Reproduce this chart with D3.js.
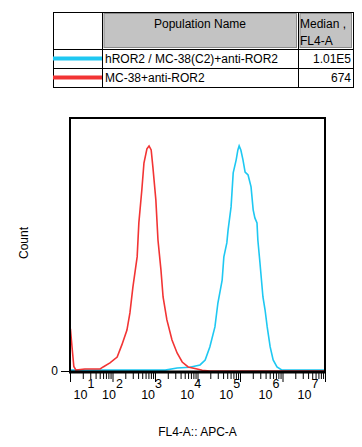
<!DOCTYPE html>
<html>
<head>
<meta charset="utf-8">
<script src="https://cdn.jsdelivr.net/npm/d3@7"></script>
<style>
  body { margin: 0; background: #fff; }
  svg { display: block; font-family: "Liberation Sans", Arial, sans-serif; }
</style>
</head>
<body>
<div id="chart"></div>
<script>
// series names and medians (legend table)
var seriesNames = ["hROR2 / MC-38(C2)+anti-ROR2", "MC-38+anti-ROR2"];
var seriesMedians = ["1.01E5", "674"];
var seriesColors = ["#1ec8f2", "#f23434"];

// histogram traces: log10(FL4-A) and count as % of mode
var blueLog = [1.0, 3.24, 3.52, 3.82, 4.06, 4.18, 4.29, 4.41, 4.48, 4.58, 4.62, 4.69, 4.72, 4.79, 4.84, 4.91, 4.95, 4.98, 5.02, 5.07, 5.12, 5.19, 5.26, 5.31, 5.35, 5.40, 5.42, 5.47, 5.54, 5.59, 5.64, 5.71, 5.78, 5.87, 5.99, 7.0];
var blueCount = [0.4, 0.4, 1.3, 1.7, 2.7, 4.9, 10.7, 19.6, 30.2, 40.4, 50.7, 56.9, 62.7, 72.9, 88, 93.8, 98.2, 100, 98.2, 93.8, 88.4, 87.1, 81.8, 71.6, 68, 65.8, 58.2, 48, 32.9, 27.1, 19.6, 10.7, 4.9, 1.8, 0.4, 0.4];

var redLog = [1.01, 1.05, 1.09, 1.14, 1.35, 1.71, 1.78, 1.94, 2.11, 2.22, 2.34, 2.41, 2.48, 2.58, 2.62, 2.69, 2.74, 2.81, 2.86, 2.91, 2.95, 3.02, 3.07, 3.14, 3.19, 3.28, 3.40, 3.52, 3.64, 3.78, 3.99, 4.11, 4.29, 7.0];
var redCount = [18.7, 10.2, 2.0, 0.4, 0.9, 0.9, 1.8, 3.6, 6.2, 11.6, 18.2, 25.8, 37.3, 50.7, 65.8, 80.4, 92.4, 98.7, 100, 98.2, 90.7, 76, 58.2, 44.9, 32.9, 22.7, 13.8, 8, 4, 1.8, 0.9, 0.3, 0, 0];

var decades = [1, 2, 3, 4, 5, 6, 7];
var yTicks = [0];

var width = 362, height = 447;
var margin = { left: 70, right: 37, top: 118, bottom: 75 };
var plotW = width - margin.left - margin.right;
var plotH = height - margin.top - margin.bottom;

var svg = d3.select("#chart").append("svg")
  .attr("width", width)
  .attr("height", height);

// ---- legend table ----
var tbl = svg.append("g").attr("transform", "translate(53,12)");
var colX = [0, 49, 245, 300];
var rowY = [0, 37, 56, 75];

// header gray cells
tbl.append("rect").attr("x", colX[1] + 2).attr("y", 1.5).attr("width", colX[2] - colX[1] - 3.5).attr("height", rowY[1] - 3)
  .attr("fill", "#c3c3c3").attr("stroke", "#8a8a8a");
tbl.append("rect").attr("x", colX[2] + 2).attr("y", 1.5).attr("width", colX[3] - colX[2] - 3.5).attr("height", rowY[1] - 3)
  .attr("fill", "#c3c3c3").attr("stroke", "#8a8a8a");

tbl.append("rect").attr("x", 0.5).attr("y", 0.5).attr("width", colX[3]).attr("height", rowY[3])
  .attr("fill", "none").attr("stroke", "#000");
colX.slice(1, 3).forEach(function(cx) {
  tbl.append("line").attr("x1", cx + 0.5).attr("x2", cx + 0.5).attr("y1", 0).attr("y2", rowY[3])
    .attr("stroke", "#000");
});
rowY.slice(1, 3).forEach(function(ry) {
  tbl.append("line").attr("x1", 0).attr("x2", colX[3]).attr("y1", ry + 0.5).attr("y2", ry + 0.5)
    .attr("stroke", "#000");
});

tbl.append("text").attr("x", (colX[1] + colX[2]) / 2).attr("y", 16).attr("text-anchor", "middle")
  .attr("font-size", 12).text("Population Name");
tbl.append("text").attr("x", colX[2] + 2).attr("y", 16).attr("font-size", 12).text("Median ,");
tbl.append("text").attr("x", colX[2] + 2).attr("y", 33).attr("font-size", 12).text("FL4-A");

seriesNames.forEach(function(name, i) {
  var yMid = (rowY[i + 1] + rowY[i + 2]) / 2;
  tbl.append("line").attr("x1", 0).attr("x2", colX[1]).attr("y1", yMid).attr("y2", yMid)
    .attr("stroke", seriesColors[i]).attr("stroke-width", 4);
  tbl.append("text").attr("x", colX[1] + 3).attr("y", yMid + 4.5).attr("font-size", 12).text(name);
  tbl.append("text").attr("x", colX[3] - 2).attr("y", yMid + 4.5).attr("text-anchor", "end")
    .attr("font-size", 12).text(seriesMedians[i]);
});

// ---- plot ----
var x = d3.scaleLinear().domain([1, 7]).range([margin.left, margin.left + plotW]);
var y = d3.scaleLinear().domain([0, 112.4]).range([margin.top + plotH - 1, margin.top]);

var line = d3.line()
  .x(function(d) { return x(d[0]); })
  .y(function(d) { return y(d[1]); });

var series = [d3.zip(blueLog, blueCount), d3.zip(redLog, redCount)];
series.forEach(function(s, i) {
  svg.append("path").datum(s)
    .attr("d", line)
    .attr("fill", "none")
    .attr("stroke", seriesColors[i])
    .attr("stroke-width", 1.6);
});

// frame
svg.append("rect")
  .attr("x", margin.left).attr("y", margin.top)
  .attr("width", plotW).attr("height", plotH)
  .attr("fill", "none").attr("stroke", "#000").attr("stroke-width", 2);
svg.append("line")
  .attr("x1", margin.left - 1).attr("x2", margin.left + plotW + 1)
  .attr("y1", margin.top + plotH).attr("y2", margin.top + plotH)
  .attr("stroke", "#000").attr("stroke-width", 3);

// x ticks: minor and major
var minorVals = [];
decades.slice(0, -1).forEach(function(d) {
  for (var k = 2; k <= 9; k++) minorVals.push(d + Math.log10(k));
});

var axisY = margin.top + plotH + 1;
var minorAxis = svg.append("g").attr("transform", "translate(0," + axisY + ")")
  .call(d3.axisBottom(x).tickValues(minorVals).tickSize(6).tickFormat(""));
var majorAxis = svg.append("g").attr("transform", "translate(0," + axisY + ")")
  .call(d3.axisBottom(x).tickValues(decades).tickSize(9).tickFormat(""));
[minorAxis, majorAxis].forEach(function(g) {
  g.select(".domain").remove();
  g.selectAll("line").attr("stroke", "#000").attr("stroke-width", 1);
});

// decade labels (FlowJo draws them slightly compressed toward the left)
decades.forEach(function(d) {
  var cx = x(2) + (x(d) - x(2)) * 0.92;
  if (d === 1) cx = margin.left + 14;
  var t = svg.append("text").attr("x", cx).attr("y", 399)
    .attr("text-anchor", "middle").attr("font-size", 12.5);
  t.append("tspan").text("10");
  t.append("tspan").attr("dy", -11).text(d);
});

// y axis
var yAxis = svg.append("g").attr("transform", "translate(" + margin.left + ",0)")
  .call(d3.axisLeft(y).tickValues(yTicks).tickSize(9).tickFormat(d3.format("d")));
yAxis.select(".domain").remove();
yAxis.selectAll("line").attr("stroke", "#000");
yAxis.selectAll("text").attr("font-size", 12).attr("fill", "#000")
  .attr("font-family", "Liberation Sans, Arial, sans-serif").attr("x", -12);

// axis titles
svg.append("text").attr("x", x(4)).attr("y", 436).attr("text-anchor", "middle")
  .attr("font-size", 12).text("FL4-A:: APC-A");
svg.append("text").attr("transform", "translate(28,243) rotate(-90)")
  .attr("text-anchor", "middle").attr("font-size", 12).text("Count");
</script>
</body>
</html>
